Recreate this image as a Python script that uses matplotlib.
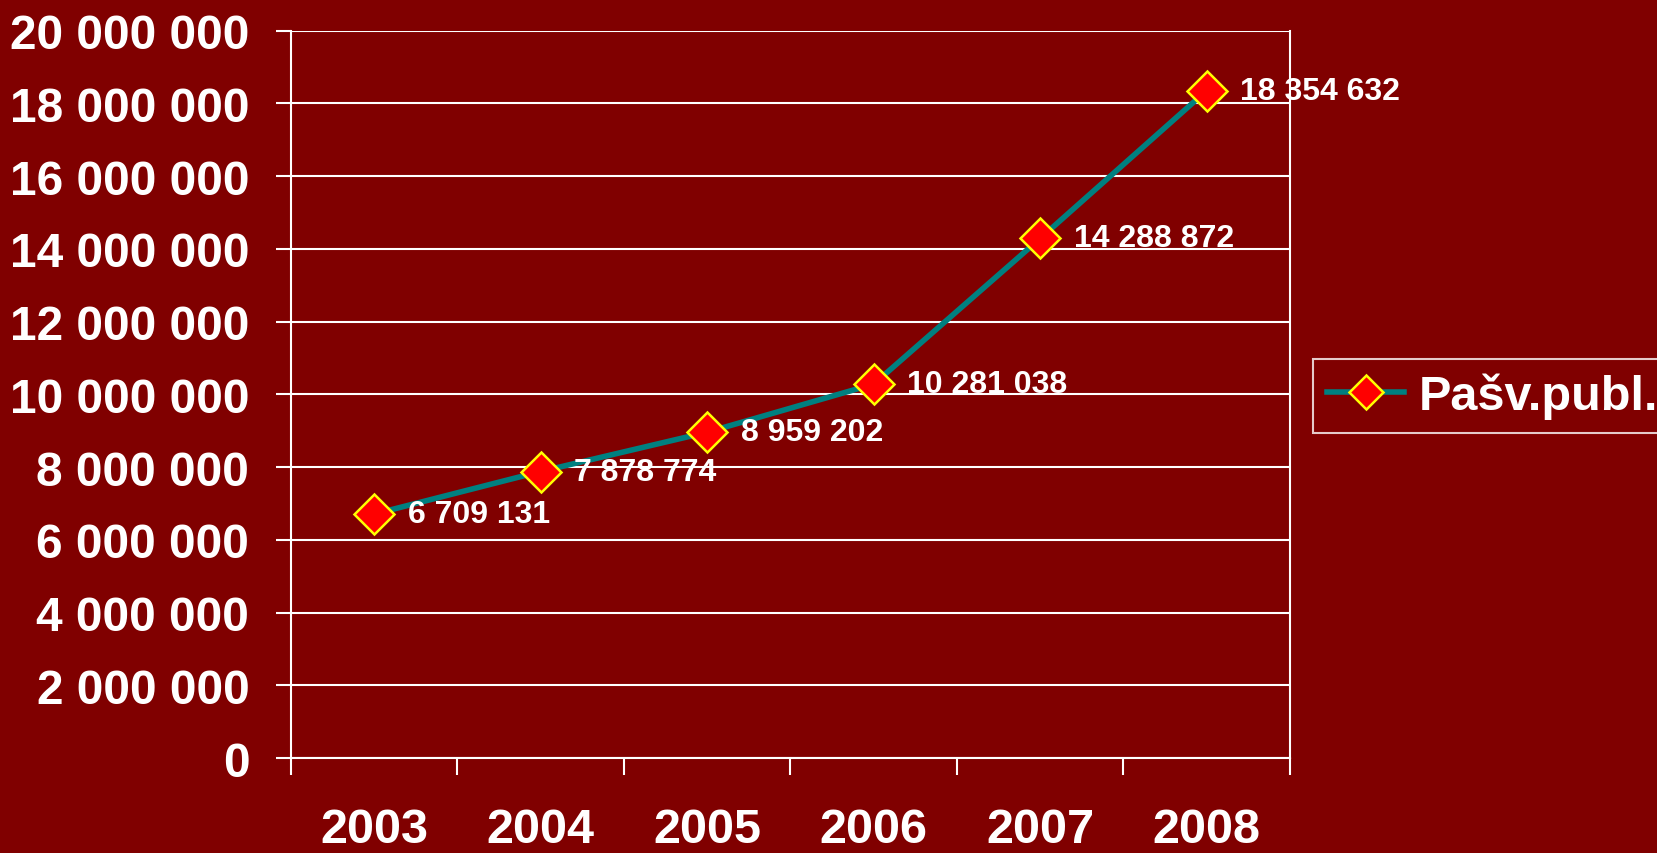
import numpy as np
import matplotlib.pyplot as plt
from matplotlib.ticker import FuncFormatter, FixedLocator

# dados
roky = ['2003', '2004', '2005', '2006', '2007', '2008']
hodnoty = [6709131, 7878774, 8959202, 10281038, 14288872, 18354632]
nazov_serie = 'Pašv.publ.'

pozadie = '#800000'
plt.rcParams['font.family'] = ['Liberation Sans', 'DejaVu Sans']
plt.rcParams['font.weight'] = 'bold'


def medzery(v, pos=None):
    # 20000000 -> "20 000 000"
    return '{:,}'.format(int(v)).replace(',', ' ')


fig = plt.figure(figsize=(16.57, 8.54), dpi=100, facecolor=pozadie)
ax = fig.add_axes([0.1756, 0.1112, 0.7785 - 0.1756, 0.9629 - 0.1112])
ax.set_facecolor(pozadie)

x = np.arange(len(roky))
ax.plot(x, hodnoty, color='#008080', lw=4, marker='D', markersize=20,
        markerfacecolor='#FF0000', markeredgecolor='#FFFF00', markeredgewidth=1.8,
        label=nazov_serie, zorder=3)

for xi, v in zip(x, hodnoty):
    ax.annotate(medzery(v), (xi, v), xytext=(24, 0), textcoords='offset points',
                ha='left', va='center', color='white', fontsize=23,
                fontweight='bold', zorder=4)

ax.set_xlim(-0.5, len(roky) - 0.5)
ax.set_ylim(0, 20000000)
ax.set_yticks(np.arange(0, 20000001, 2000000))
ax.yaxis.set_major_formatter(FuncFormatter(medzery))
ax.yaxis.grid(True, color='white', lw=1.5)
ax.set_axisbelow(True)

ax.set_xticks(x)
ax.set_xticklabels(roky)
ax.xaxis.set_minor_locator(FixedLocator(np.arange(-0.5, len(roky), 1)))
ax.tick_params(axis='x', which='major', length=0, pad=35, labelsize=35,
               labelcolor='white')
ax.tick_params(axis='x', which='minor', length=12, width=1.5, color='white')
ax.tick_params(axis='y', length=11, width=1.5, color='white', pad=19,
               labelsize=34.5, labelcolor='white')

for s in ['left', 'right', 'bottom']:
    ax.spines[s].set_color('white')
    ax.spines[s].set_linewidth(1.5)
ax.spines['top'].set_visible(False)

leg = fig.legend(loc='upper left', bbox_to_anchor=(0.7924, 0.5785),
                 fontsize=35, frameon=True, fancybox=False, facecolor=pozadie,
                 edgecolor='white', handlelength=1.6, handletextpad=0.3,
                 borderpad=0.28, markerscale=0.85, borderaxespad=0)
leg.get_frame().set_linewidth(1.5)
for t in leg.get_texts():
    t.set_color('white')

fig.savefig('out.png', dpi=100, facecolor=pozadie)
